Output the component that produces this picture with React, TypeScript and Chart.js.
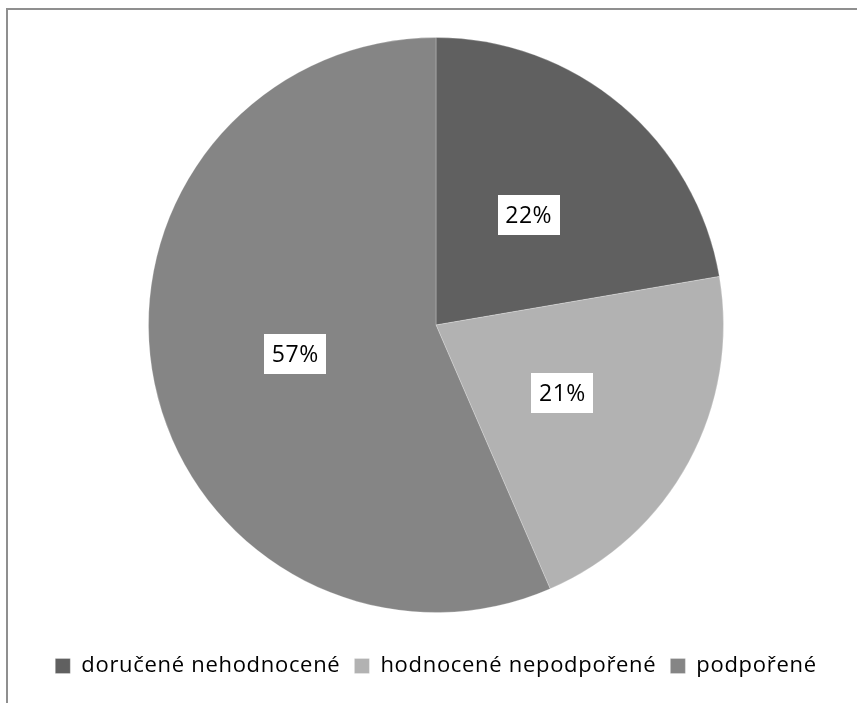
import React, { useEffect, useRef } from "react";
import { Chart, registerables } from "chart.js";

Chart.register(...registerables);

const categories = ["doručené nehodnocené", "hodnocené nepodpořené", "podpořené"];
const shares = [22.3, 21.2, 56.5];
const sliceColors = ["#606060", "#b2b2b2", "#858585"];

const FONT = "'Open Sans', 'DejaVu Sans', sans-serif";
const SPACING = "0.7px";

const spacingPlugin = {
  id: "spacing",
  beforeLayout(chart: any) {
    (chart.ctx as any).letterSpacing = SPACING;
  },
  beforeDraw(chart: any) {
    (chart.ctx as any).letterSpacing = SPACING;
  },
};

const labelPlugin = {
  id: "pctLabels",
  afterDatasetsDraw(chart: any) {
    const ctx = chart.ctx;
    const meta = chart.getDatasetMeta(0);
    const data = chart.data.datasets[0].data as number[];
    const total = data.reduce((a, b) => a + b, 0);
    ctx.save();
    ctx.font = `23px ${FONT}`;
    (ctx as any).letterSpacing = "0.5px";
    ctx.textAlign = "center";
    ctx.textBaseline = "middle";
    meta.data.forEach((arc: any, i: number) => {
      const p = arc.tooltipPosition();
      const pct = Math.round(Number(((data[i] / total) * 100).toFixed(6)));
      const txt = pct + "%";
      const w = 62;
      const h = 40;
      ctx.fillStyle = "#ffffff";
      ctx.fillRect(Math.round(p.x - w / 2), Math.round(p.y - h / 2), w, h);
      ctx.fillStyle = "#000000";
      ctx.fillText(txt, p.x, p.y + 1);
    });
    ctx.restore();
  },
};

export default function App() {
  const ref = useRef<HTMLCanvasElement | null>(null);
  useEffect(() => {
    if (!ref.current) return;
    const chart = new Chart(ref.current, {
      type: "pie",
      data: {
        labels: categories,
        datasets: [
          {
            data: shares,
            backgroundColor: sliceColors,
            borderColor: "rgba(255,255,255,0.25)",
            borderWidth: 1,
          },
        ],
      },
      options: {
        responsive: false,
        animation: false,
        layout: { padding: { left: 15, right: 0, top: 37, bottom: 16 } },
        plugins: {
          tooltip: { enabled: false },
          legend: {
            position: "bottom",
            title: { display: true, text: "", font: { size: 10, lineHeight: 1 }, padding: { top: 0, bottom: 18 } },
            labels: {
              boxWidth: 15,
              boxHeight: 15,
              padding: 14,
              color: "#000000",
              font: { family: FONT, size: 22 },
            },
          },
        },
      },
      plugins: [spacingPlugin, labelPlugin],
    });
    return () => chart.destroy();
  }, []);
  return (
    <div style={{ position: "fixed", left: 0, top: 0, width: 857, height: 703, overflow: "hidden", background: "#fff" }}>
      <div
        style={{
          position: "absolute",
          left: 6,
          top: 8,
          width: 1000,
          height: 1000,
          border: "2px solid #8f8f8f",
        }}
      />
      <canvas ref={ref} width={857} height={703} style={{ position: "absolute", left: 0, top: 0, width: 857, height: 703 }} />
    </div>
  );
}
